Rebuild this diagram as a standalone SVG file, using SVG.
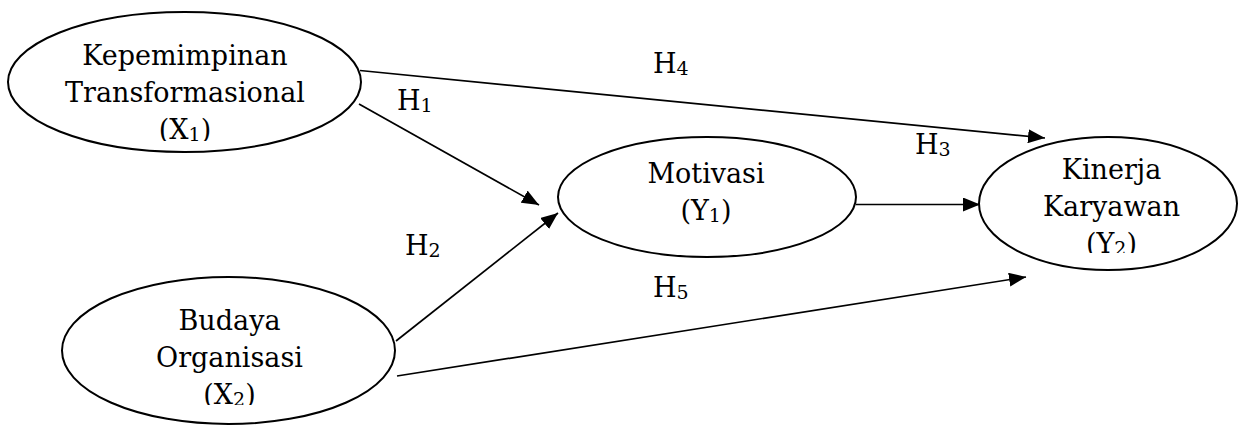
<svg xmlns="http://www.w3.org/2000/svg" width="1241" height="425" viewBox="0 0 1241 425">
<style>
.n{fill:#fff;stroke:#000;stroke-width:2}
.t{font-family:"DejaVu Serif","Liberation Serif",serif;font-size:27px;fill:#000;text-anchor:middle}
.s{font-size:19px}
.c{stroke:#000;stroke-width:1.7;fill:none;marker-end:url(#ah)}
</style>
<defs>
<marker id="ah" markerWidth="17" markerHeight="14" refX="17" refY="7" orient="auto" markerUnits="userSpaceOnUse">
<path d="M0,0 L17,7 L0,14 Z" fill="#000"/>
</marker>
<clipPath id="c1"><rect x="0" y="0" width="400" height="141"/></clipPath>
<clipPath id="c2"><rect x="0" y="260" width="420" height="145"/></clipPath>
<clipPath id="c3"><rect x="960" y="120" width="281" height="133"/></clipPath>
</defs>
<rect width="1241" height="425" fill="#fff"/>
<g id="connectors">
<line class="c" x1="360" y1="70.5" x2="1045" y2="138"/>
<line class="c" x1="359" y1="104" x2="539" y2="205"/>
<line class="c" x1="396" y1="341" x2="558" y2="213"/>
<line class="c" x1="856" y1="204.5" x2="980" y2="204.5"/>
<line class="c" x1="397" y1="376" x2="1026" y2="277"/>
</g>
<g id="labels" class="t" style="text-anchor:start">
<text x="653" y="73">H<tspan class="s" dy="2">4</tspan></text>
<text x="397" y="110">H<tspan class="s" dy="2">1</tspan></text>
<text x="915" y="154">H<tspan class="s" dy="2">3</tspan></text>
<text x="405" y="255">H<tspan class="s" dy="2">2</tspan></text>
<text x="653" y="297">H<tspan class="s" dy="2">5</tspan></text>
</g>
<g id="X1">
<ellipse class="n" cx="184.5" cy="82" rx="176.5" ry="70"/>
<g clip-path="url(#c1)">
<text class="t" x="185" y="65">Kepemimpinan</text>
<text class="t" x="185" y="102">Transformasional</text>
<text class="t" x="185" y="139">(X<tspan class="s" dy="2">1</tspan><tspan dy="-2">)</tspan></text>
</g>
</g>
<g id="X2">
<ellipse class="n" cx="228.5" cy="350.5" rx="166.5" ry="73.5"/>
<g clip-path="url(#c2)">
<text class="t" x="229.5" y="330">Budaya</text>
<text class="t" x="229.5" y="367">Organisasi</text>
<text class="t" x="229.5" y="404">(X<tspan class="s" dy="2">2</tspan><tspan dy="-2">)</tspan></text>
</g>
</g>
<g id="Y1">
<ellipse class="n" cx="707" cy="197" rx="149" ry="60"/>
<text class="t" x="706" y="183">Motivasi</text>
<text class="t" x="706" y="220">(Y<tspan class="s" dy="2">1</tspan><tspan dy="-2">)</tspan></text>
</g>
<g id="Y2">
<ellipse class="n" cx="1108" cy="203.5" rx="129" ry="66.5"/>
<g clip-path="url(#c3)">
<text class="t" x="1111.5" y="179">Kinerja</text>
<text class="t" x="1111.5" y="216">Karyawan</text>
<text class="t" x="1111.5" y="253">(Y<tspan class="s" dy="2">2</tspan><tspan dy="-2">)</tspan></text>
</g>
</g>
</svg>
